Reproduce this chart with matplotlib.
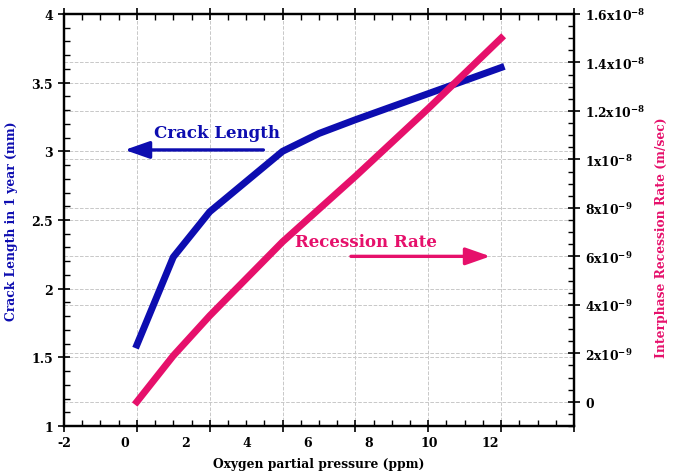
import matplotlib
matplotlib.use('Agg')
import matplotlib.pyplot as plt
from matplotlib.ticker import MultipleLocator, FuncFormatter, NullLocator

# ---------------------------------------------------------------
# data (x in tick units of the plotted axis)
# ---------------------------------------------------------------
pressure_crack = [0, 1, 2, 4, 5, 6, 8, 10]
crack_length = [1.59, 2.23, 2.56, 3.00, 3.13, 3.23, 3.42, 3.61]

pressure_rate = [0, 1, 2, 4, 6, 8, 10]
recession_rate = [0.0, 1.9e-9, 3.55e-9, 6.6e-9, 9.3e-9, 12.1e-9, 15.0e-9]

xtick_values = [-2, 0, 2, 4, 6, 8, 10, 12]
xtick_labels = ['-2', '0', '2', '4', '6', '8', '10', '12']

BLUE = '#0d0db0'
PINK = '#e6106b'
GRID = '#c8c8c8'

plt.rcParams['font.family'] = 'DejaVu Serif'
plt.rcParams['font.weight'] = 'bold'
plt.rcParams['mathtext.fontset'] = 'dejavuserif'

fig = plt.figure(figsize=(6.78, 4.77), dpi=100)
ax = fig.add_axes([0.0944, 0.1048, 0.7522, 0.8638])
ax2 = ax.twinx()

# left axis: crack length
ax.plot(pressure_crack, crack_length, color=BLUE, lw=5)
ax.set_xlim(-2, 12)
ax.set_ylim(1, 4)
ax.xaxis.set_major_locator(MultipleLocator(2))
ax.xaxis.set_minor_locator(MultipleLocator(0.5))
ax.yaxis.set_major_locator(MultipleLocator(0.5))
ax.yaxis.set_minor_locator(MultipleLocator(0.1))
ax.yaxis.set_major_formatter(FuncFormatter(lambda v, p: f'{v:g}'))
ax.tick_params(which='major', direction='inout', length=9, width=1.2,
               top=True, labelsize=9, labelbottom=False)
ax.tick_params(which='minor', direction='in', length=4, width=1, top=True)
ax.grid(True, which='major', color=GRID, ls='--', lw=0.7)

# tick labels as they sit in the reference (squeezed to the left)
sec = ax.secondary_xaxis('bottom')
sec.set_xticks([-2 + (v + 2) * 0.836 for v in xtick_values], xtick_labels)
sec.xaxis.set_minor_locator(NullLocator())
sec.tick_params(length=0, pad=7, labelsize=9)
sec.spines['bottom'].set_visible(False)

# right axis: recession rate
ax2.plot(pressure_rate, recession_rate, color=PINK, lw=5)
ax2.set_ylim(-1e-9, 1.6e-8)
ax2.yaxis.set_major_locator(MultipleLocator(2e-9))
ax2.yaxis.set_minor_locator(MultipleLocator(5e-10))


def sci_fmt(v, pos):
    if abs(v) < 1e-13:
        return '0'
    exp = int(f'{v:e}'.split('e')[1])
    mant = v / 10 ** exp
    return f'{mant:g}x10$^{{\\mathbf{{{exp}}}}}$'


ax2.yaxis.set_major_formatter(FuncFormatter(sci_fmt))
ax2.tick_params(which='major', direction='inout', length=9, width=1.2, labelsize=8.8)
ax2.tick_params(which='minor', direction='in', length=4, width=1)

# right-axis gridlines drawn in the left axes so they stay under the blue curve
r_lo, r_hi = ax2.get_ylim()
for v in ax2.get_yticks():
    if r_lo < v < r_hi:
        ax.axhline(1 + (v - r_lo) / (r_hi - r_lo) * 3, color=GRID, ls='--', lw=0.7, zorder=0.5)

for a in (ax, ax2):
    for s in a.spines.values():
        s.set_linewidth(1.6)

# axis labels
ax.set_xlabel('Oxygen partial pressure (ppm)', fontsize=8.8, fontweight='bold')
ax.xaxis.set_label_coords(0.5, -0.075)
ax.set_ylabel('Crack Length in 1 year (mm)', fontsize=8.8, fontweight='bold', color=BLUE)
ax.yaxis.set_label_coords(-0.09, 0.5)
ax2.set_ylabel('Interphase Recession Rate (m/sec)', fontsize=8.8, fontweight='bold', color=PINK)
ax2.yaxis.set_label_coords(1.158, 0.46)

# annotations with arrows
ax.text(2.2, 3.14, 'Crack Length', color=BLUE, fontsize=12, fontweight='bold',
        ha='center', va='center')
ax.annotate('', xy=(-0.41, 3.01), xytext=(3.55, 3.01),
            arrowprops=dict(arrowstyle='-|>,head_length=1.0,head_width=0.35',
                            color=BLUE, lw=2.4, mutation_scale=15))
ax2.text(6.29, 6.6e-9, 'Recession Rate', color=PINK, fontsize=12, fontweight='bold',
         ha='center', va='center')
ax2.annotate('', xy=(9.78, 6.0e-9), xytext=(5.8, 6.0e-9),
             arrowprops=dict(arrowstyle='-|>,head_length=1.0,head_width=0.35',
                             color=PINK, lw=2.4, mutation_scale=15))

fig.savefig('out.png', dpi=100)
